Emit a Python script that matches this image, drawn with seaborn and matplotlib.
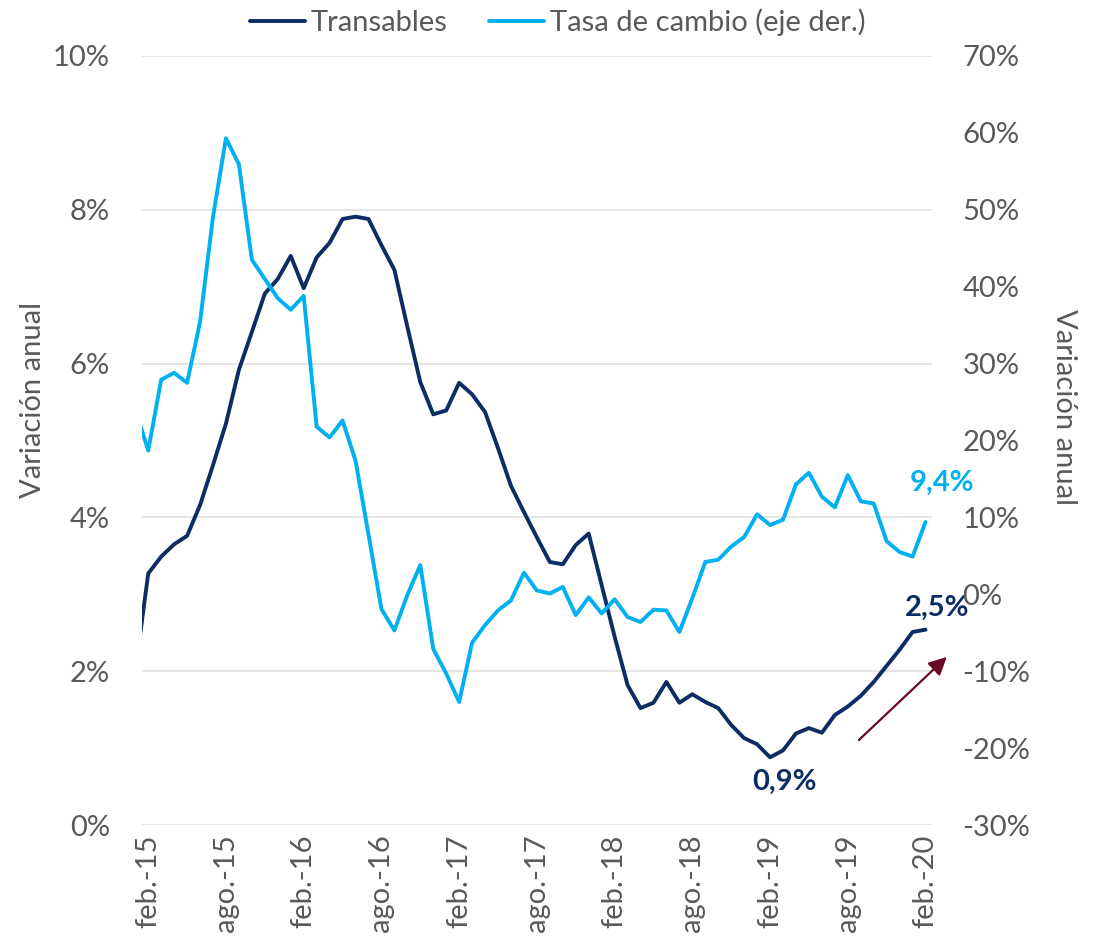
import pandas as pd
import seaborn as sns
import matplotlib.pyplot as plt
from matplotlib.ticker import FuncFormatter

# meses desde ene.-15 (-1, queda recortado) hasta feb.-20 (60)
meses = list(range(-1, 61))

transables = [2.00, 3.27, 3.49, 3.65, 3.76, 4.16, 4.68, 5.22, 5.92, 6.41,
              6.91, 7.10, 7.40, 6.98, 7.38, 7.57, 7.88, 7.91, 7.88, 7.54,
              7.22, 6.48, 5.76, 5.34, 5.39, 5.75, 5.60, 5.37, 4.90, 4.41,
              4.07, 3.74, 3.42, 3.39, 3.64, 3.79, 3.12, 2.45, 1.82, 1.52,
              1.59, 1.86, 1.59, 1.70, 1.60, 1.52, 1.30, 1.13, 1.05, 0.88,
              0.97, 1.19, 1.26, 1.20, 1.43, 1.54, 1.68, 1.86, 2.07, 2.28,
              2.51, 2.54]

tasa_cambio = [24.0, 18.7, 27.9, 28.8, 27.5, 35.4, 49.1, 59.3, 55.9, 43.5,
               41.0, 38.5, 37.0, 38.8, 21.8, 20.4, 22.6, 17.4, 7.8, -1.9,
               -4.7, -0.1, 3.8, -7.1, -10.3, -14.0, -6.3, -4.0, -2.1, -0.8,
               2.8, 0.5, 0.1, 0.95, -2.7, -0.4, -2.5, -0.65, -2.95, -3.6,
               -2.0, -2.1, -4.9, -0.5, 4.2, 4.5, 6.2, 7.45, 10.4, 9.0,
               9.7, 14.3, 15.8, 12.7, 11.3, 15.5, 12.1, 11.8, 6.9, 5.5,
               4.9, 9.4]

etiquetas = ["feb.-15", "ago.-15", "feb.-16", "ago.-16", "feb.-17", "ago.-17",
             "feb.-18", "ago.-18", "feb.-19", "ago.-19", "feb.-20"]

df = pd.DataFrame({"mes": meses, "Transables": transables, "Tasa": tasa_cambio})

sns.set_theme(style="white")
plt.rcParams["font.family"] = ["Lato", "DejaVu Sans"]

azul_osc = "#0B2D63"
celeste = "#00B0F0"
gris = "#595959"
fs = 21

fig = plt.figure(figsize=(11.04, 9.42), dpi=100)
ax = fig.add_axes([0.1284, 0.1242, 0.7158, 0.8164])
ax2 = ax.twinx()

sns.lineplot(data=df, x="mes", y="Transables", ax=ax, color=azul_osc,
             linewidth=2.8, label="Transables", legend=False)
sns.lineplot(data=df, x="mes", y="Tasa", ax=ax2, color=celeste,
             linewidth=2.8, label="Tasa de cambio (eje der.)", legend=False)

ax.set_xlim(-0.5, 60.5)
ax.set_ylim(0, 10)
ax2.set_ylim(-30, 70)
ax.set_yticks(range(0, 11, 2))
ax2.set_yticks(range(-30, 71, 10))
ax.yaxis.set_major_formatter(FuncFormatter(lambda v, p: f"{v:.0f}%"))
ax2.yaxis.set_major_formatter(FuncFormatter(lambda v, p: f"{v:.0f}%"))
ax.set_xticks(range(0, 61, 6))
ax.set_xticklabels(etiquetas, rotation=90)

ax.grid(axis="y", color="#E3E3E3", linewidth=1.3)
ax.grid(axis="x", visible=False)
ax2.grid(False)
for a in (ax, ax2):
    for s in a.spines.values():
        s.set_visible(False)
ax.set_xlabel("")
ax.set_ylabel("")
ax2.set_ylabel("")
ax.tick_params(axis="y", length=0, pad=23, labelsize=fs, labelcolor=gris)
ax.tick_params(axis="x", length=0, pad=7, labelsize=fs, labelcolor=gris)
ax2.tick_params(axis="y", length=0, pad=22, labelsize=fs, labelcolor=gris)

fig.text(33 / 1104, 1 - 400 / 942, "Variación anual", rotation=90,
         ha="center", va="center", fontsize=fs, color=gris)
fig.text(1064 / 1104, 1 - 407 / 942, "Variación anual", rotation=270,
         ha="center", va="center", fontsize=fs, color=gris)

# etiquetas de valores
ax.text(61.3, 4.45, "9,4%", color=celeste, fontsize=fs, fontweight="bold",
        ha="center", va="center", clip_on=False)
ax.text(60.9, 2.83, "2,5%", color=azul_osc, fontsize=fs, fontweight="bold",
        ha="center", va="center", clip_on=False)
ax.text(49.1, 0.56, "0,9%", color=azul_osc, fontsize=fs, fontweight="bold",
        ha="center", va="center", clip_on=False)
ax.annotate("", xy=(61.8, 2.21), xytext=(54.7, 1.08), annotation_clip=False,
            arrowprops=dict(arrowstyle="-|>,head_length=0.9,head_width=0.45",
                            color="#6B0A26", lw=1.6))

h1, l1 = ax.get_legend_handles_labels()
h2, l2 = ax2.get_legend_handles_labels()
fig.legend(h1 + h2, l1 + l2, loc="center", bbox_to_anchor=(0.505, 1 - 22 / 942),
           ncol=2, frameon=False, fontsize=fs, labelcolor=gris,
           handlelength=1.9, handletextpad=0.2, columnspacing=1.4)

fig.savefig("out.png", dpi=100)
